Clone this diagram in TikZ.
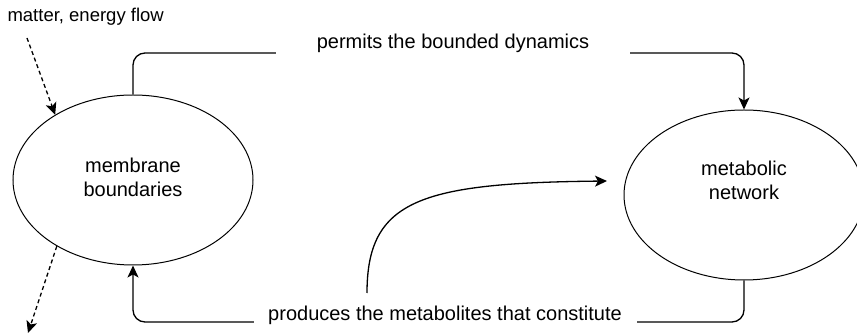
\documentclass[tikz,border=0pt]{standalone}
\usepackage{fontspec}
\setmainfont{Liberation Sans}
\usetikzlibrary{shapes.geometric,arrows.meta}

\tikzstyle{cell} = [draw, ellipse, line width=1pt, minimum width=240pt, minimum height=170pt, inner sep=0pt]
\tikzstyle{txt} = [align=center, font=\fontsize{20}{24}\selectfont]
\tikzstyle{tag} = [fill=white, inner sep=0pt, anchor=base, text depth=8pt, font=\fontsize{20}{24}\selectfont]
\tikzstyle{link} = [line width=1.3pt, rounded corners=12pt, -{Stealth[length=12pt,width=11pt,inset=3pt]}]
\tikzstyle{flow} = [line width=1.3pt, dash pattern=on 4pt off 3pt, -{Stealth[length=12pt,width=11pt,inset=3pt]}]

\begin{document}
\begin{tikzpicture}[x=1pt, y=-1pt]
	\useasboundingbox (0,0) rectangle (857,336);
	% the two cells
	\node[cell] (memb) at (133,180) {};
	\node[txt] (membtxt) at (133,177) {membrane\\boundaries};
	\node[cell] (metab) at (744,195) {};
	\node[txt] (metabtxt) at (744,180) {metabolic\\network};
	\node[txt, anchor=west, font=\fontsize{18.5}{22}\selectfont] (mflow) at (4,17) {matter, energy flow};
	% free ends
	\coordinate (inflow) at (27,38);
	\coordinate (outflow) at (28,333);
	\coordinate (top) at (453,53);
	\coordinate (bot) at (445,322);
	\coordinate (cstart) at (367,293);
	\coordinate (cend) at (607,181);
	% connectors
	\draw[link] (memb.north) |- (top) -| (metab.north);
	\draw[link] (metab.south) |- (bot) -| (memb.south);
	\draw[link] (cstart) .. controls (367,200) and (420,183) .. (cend);
	\draw[flow] (inflow) -- (memb.140);
	\draw[flow] (memb.221) -- (outflow);
	% labels on the connectors
	\node[tag, minimum width=354pt] (permits) at (453,49) {permits the bounded dynamics};
	\node[tag, minimum width=383pt] (produces) at (445,321) {produces the metabolites that constitute};
\end{tikzpicture}
\end{document}
